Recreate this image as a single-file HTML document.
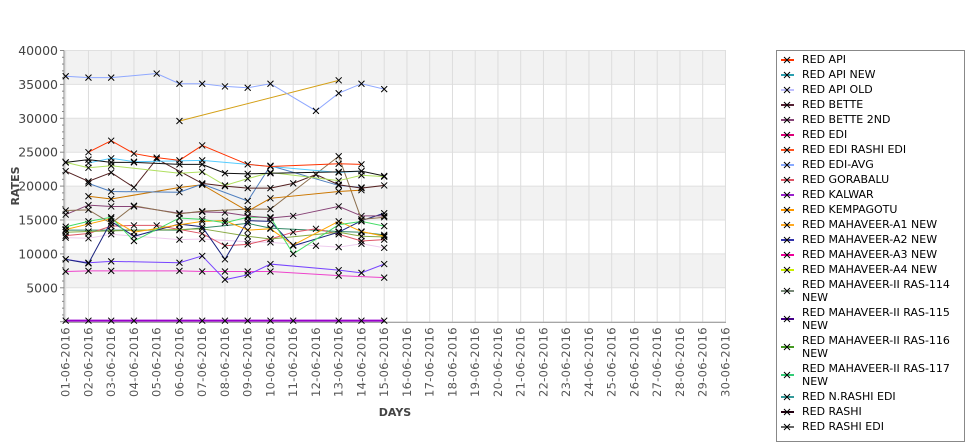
<!DOCTYPE html>
<html><head><meta charset="utf-8"><style>
body{margin:0;background:#fff;width:975px;height:429px;overflow:hidden;font-family:"DejaVu Sans","Liberation Sans",sans-serif}
#legend{position:absolute;left:776px;top:50px;width:187px;height:390px;border:1px solid #888;background:#fff;overflow:hidden}
.li{position:relative;padding-left:25px;font-size:11px;line-height:13px;color:#000;margin-bottom:2px;width:155px;word-break:break-all}
.li svg{position:absolute;left:4px;top:50%;margin-top:-5px}
</style></head><body>
<svg id="chart" width="975" height="429" style="position:absolute;left:0;top:0"></svg>
<div id="legend"><div id="legin" style="padding-top:2px"></div></div>
<script>
const categories=["01-06-2016","02-06-2016","03-06-2016","04-06-2016","05-06-2016","06-06-2016","07-06-2016","08-06-2016","09-06-2016","10-06-2016","11-06-2016","12-06-2016","13-06-2016","14-06-2016","15-06-2016","16-06-2016","17-06-2016","18-06-2016","19-06-2016","20-06-2016","21-06-2016","22-06-2016","23-06-2016","24-06-2016","25-06-2016","26-06-2016","27-06-2016","28-06-2016","29-06-2016","30-06-2016"];
const yTicks=[5000,10000,15000,20000,25000,30000,35000,40000];
const legendNames=["RED API","RED API NEW","RED API OLD","RED BETTE","RED BETTE 2ND","RED EDI","RED EDI RASHI EDI","RED EDI-AVG","RED GORABALU","RED KALWAR","RED KEMPAGOTU","RED MAHAVEER-A1 NEW","RED MAHAVEER-A2 NEW","RED MAHAVEER-A3 NEW","RED MAHAVEER-A4 NEW","RED MAHAVEER-II RAS-114 NEW","RED MAHAVEER-II RAS-115 NEW","RED MAHAVEER-II RAS-116 NEW","RED MAHAVEER-II RAS-117 NEW","RED N.RASHI EDI","RED RASHI","RED RASHI EDI"];
const legendColors=["#ff3300","#2aa0b0","#c0c0ff","#552233","#884477","#dd0077","#ff5522","#88aaff","#dd5566","#9922cc","#ff9900","#ffaa22","#3333aa","#ee0099","#ccee00","#778877","#440088","#449922","#33cc77","#339999","#220011","#666666"];
const _=null;
const sEdiAvg=[36200,36000,36000,_,36600,35100,35100,34700,34500,35100,_,31100,33700,35100,34300];
const sGold=[_,_,_,_,_,29600,_,_,_,_,_,_,35600,_,_];
const sApi=[_,25000,26700,24800,24200,23800,26000,_,23200,22900,_,_,23300,23200,_];
const sRashi=[23500,23900,23500,23500,_,23200,23200,21900,21800,21900,_,_,22100,22200,21500];
const sCyan=[_,23400,24100,23600,_,_,23800,_,_,_,_,_,22000,22200,_];
const sLime=[23500,22700,23000,_,_,21900,22100,20100,21100,22000,_,_,20800,21600,21400];
const sBette=[22200,20700,22000,19800,24000,_,20400,20000,19700,19700,20400,21700,20200,19700,20100];
const sSteel=[_,20400,19200,_,_,19100,20300,_,17800,23000,_,_,20100,19800,_];
const sDarkOr=[_,18500,18100,_,_,19800,20200,_,16300,18200,_,_,19200,19400,_];
const sTan=[16400,16500,14500,17100,_,15900,16300,_,16600,16600,_,_,24400,15100,15400];
const sBette2=[15800,17200,17000,17000,_,16000,16200,16100,15600,15300,15600,_,17000,15600,15600];
const sGreen=[14000,14800,15400,11900,_,15300,15100,14600,15400,15400,10000,_,14300,14800,14100];
const sOrange=[13600,14400,15200,13200,_,14300,14800,14900,13500,13700,11300,_,14800,13300,12600];
const sNavy=[9200,8600,14800,12600,_,14400,14000,9200,14900,14800,11200,_,13200,14900,16000];
const sOlive=[13200,13300,13400,_,_,13600,13700,_,12600,12200,_,_,13200,12600,12500];
const sGora=[12700,13000,14100,14200,14200,_,13000,11200,11400,12200,13200,13700,12900,11900,12100];
const sPink=[12400,12300,12900,_,_,12100,12200,_,11800,11700,_,11200,11000,11500,10900];
const sTeal=[13500,_,_,_,_,13500,_,_,14500,13800,_,_,13300,13200,12800];
const sViolet=[9200,8700,8900,_,_,8700,9700,6200,6900,8500,_,_,7600,7200,8500];
const sMagenta=[7400,7500,7500,_,_,7500,7400,7400,7400,7400,_,_,6800,_,6500];
const sZero=[150,150,150,150,_,150,150,150,150,150,150,_,150,150,150];
const seriesList=[[sZero,"#9900cc"],[sMagenta,"#ee44cc"],[sViolet,"#7744ff"],[sTeal,"#338866"],[sPink,"#eeccee"],[sGora,"#dd5566"],[sOlive,"#88aa44"],[sNavy,"#1a237e"],[sOrange,"#ffa500"],[sGreen,"#44dd66"],[sBette2,"#884477"],[sTan,"#8b6f4e"],[sDarkOr,"#cc7700"],[sSteel,"#4f7fbf"],[sBette,"#552222"],[sLime,"#b0e060"],[sCyan,"#55ccff"],[sRashi,"#111111"],[sApi,"#ff3300"],[sGold,"#d4a017"],[sEdiAvg,"#8fa8ff"]];

const NS="http://www.w3.org/2000/svg";
const svg=document.getElementById('chart');
const L=64,R=726,T=50.5,B=321.7,ymax=40000;
const x=i=>65.7+i*22.75;
const y=v=>B-(v/ymax)*(B-T);
function mk(t,a,p){const e=document.createElementNS(NS,t);for(const k in a)e.setAttribute(k,a[k]);(p||svg).appendChild(e);return e;}
for(let v=5000;v<40000;v+=10000){const r=mk('rect',{x:L,y:y(v+5000),width:R-L,height:y(v)-y(v+5000),fill:'#f2f2f2'});

}
yTicks.forEach(v=>{const g=mk('line',{x1:L,x2:R,y1:y(v),y2:y(v),stroke:'#e0e0e0','stroke-width':1});

});
categories.forEach((c,i)=>{const g=mk('line',{x1:x(i),x2:x(i),y1:T,y2:B,stroke:'#dddddd','stroke-width':1});


const t=mk('text',{x:0,y:0,transform:`translate(${x(i)+4},397) rotate(-90)`,'font-size':'11.5',fill:'#555','letter-spacing':'0.3'});
t.textContent=c;

});
mk('line',{x1:L,x2:L,y1:T,y2:B+1,stroke:'#888'});
mk('line',{x1:L,x2:R,y1:B+0.5,y2:B+0.5,stroke:'#888'});
for(let v=0;v<=40000;v+=1000){mk('line',{x1:L-(v%5000?2:4),x2:L,y1:y(v),y2:y(v),stroke:'#888'});}
yTicks.forEach(v=>{const t=mk('text',{x:58,y:y(v)+4.5,'text-anchor':'end','font-size':'12.5',fill:'#444'});
t.textContent=v;

});
const yt=mk('text',{transform:'translate(19,186) rotate(-90)','text-anchor':'middle','font-size':'11','font-weight':'bold',fill:'#444'});yt.textContent='RATES';


const xt=mk('text',{x:395,y:416,'text-anchor':'middle','font-size':'11','font-weight':'bold',fill:'#444'});xt.textContent='DAYS';


seriesList.forEach(([arr,col])=>{
 const pts=[];arr.forEach((v,i)=>{if(v!==null)pts.push([x(i),y(v)]);});
 const pl=mk('polyline',{points:pts.map(p=>p.join(',')).join(' '),fill:'none',stroke:col,'stroke-width':(arr===sZero?2:1)});
 
 
 pts.forEach(([px,py])=>{const m=mk('path',{d:`M${px-3},${py-3}L${px+3},${py+3}M${px-3},${py+3}L${px+3},${py-3}`,stroke:'#000','stroke-width':1});
 
 });
});
const li=document.getElementById('legin');
legendNames.forEach((n,i)=>{const d=document.createElement('div');d.className='li';


d.innerHTML=`<svg width="14" height="10"><line x1="0" x2="13" y1="5" y2="5" stroke="${legendColors[i]}" stroke-width="2"/><path d="M3,2L9,8M3,8L9,2" stroke="#000"/></svg>`;
d.appendChild(document.createTextNode(n));li.appendChild(d);});
</script>
</body></html>
